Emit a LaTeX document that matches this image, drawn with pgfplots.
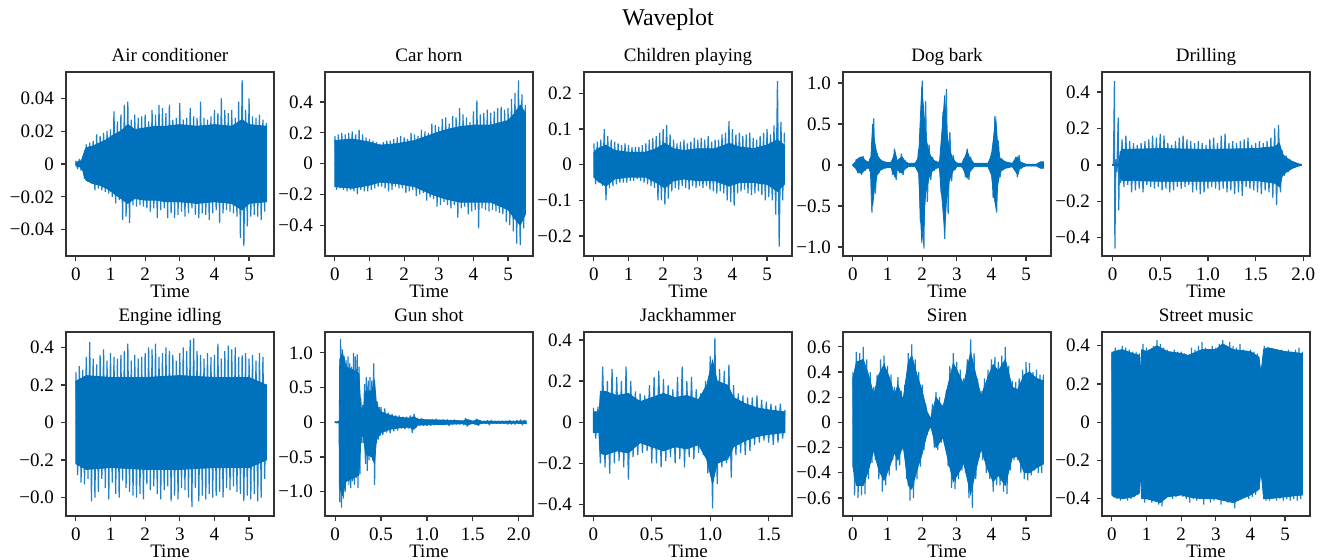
\documentclass[border=0pt]{standalone}
\usepackage{fontspec}
\setmainfont{Liberation Serif}
\usepackage{pgfplots}
\pgfplotsset{compat=1.18}
\usepgfplotslibrary{groupplots}
\usetikzlibrary{calc}

\definecolor{wavedark}{RGB}{0,113,188}
\definecolor{wavelight}{RGB}{30,128,198}
\pgfplotsset{
  spike/.style={wavelight, line width=0.6pt, line join=bevel, no markers},
  core/.style={fill=wavedark, draw=wavedark, line width=0.4pt, no markers},
}
\newcommand{\lbl}{\fontsize{9.5}{11}\selectfont}

\begin{document}
\begin{tikzpicture}
\begin{groupplot}[
  group style={group size=5 by 2, horizontal sep=25.5pt, vertical sep=38pt},
  width=104pt, height=92pt, scale only axis,
  axis line style={black!80, line width=0.6pt},
  tick style={black!80, line width=0.6pt},
  tick align=outside, tick pos=left, major tick length=2.5pt,
  ticklabel style={font=\lbl},
  scaled ticks=false,
  /pgf/number format/assume math mode=true,
  title style={font=\lbl, text height=1.55ex, text depth=0.22em, yshift=-6.5pt},
  xlabel={Time}, xlabel style={font=\lbl, yshift=5pt},
  xmin=-0.285, xmax=5.72, xtick={0,1,2,3,4,5},
]
% ---- Air conditioner
\nextgroupplot[title={Air conditioner}, ymin=-0.056, ymax=0.056,
  ytick={-0.04,-0.02,0,0.02,0.04}, yticklabels={−0.04,−0.02,0,0.02,0.04}]
\addplot[spike] coordinates {
(0,.002)(.05,-.003)(.1,.003)(.15,-.004)(.2,.005)(.25,-.009)(.3,.012)(.35,-.011)(.4,.013)(.45,-.012)
(.5,.014)(.55,-.016)(.6,.018)(.65,-.015)(.7,.017)(.75,-.016)(.8,.019)(.85,-.017)(.9,.02)(.95,-.018)
(1,.021)(1.05,-.02)(1.1,.032)(1.15,-.024)(1.2,.026)(1.25,-.022)(1.3,.03)(1.35,-.034)(1.4,.036)(1.45,-.032)
(1.5,.038)(1.55,-.036)(1.6,.027)(1.65,-.025)(1.7,.03)(1.75,-.026)(1.8,.028)(1.85,-.025)(1.9,.029)(1.95,-.026)
(2,.03)(2.05,-.027)(2.1,.026)(2.15,-.029)(2.2,.033)(2.25,-.027)(2.3,.03)(2.35,-.033)(2.4,.036)(2.45,-.028)
(2.5,.034)(2.55,-.027)(2.6,.031)(2.65,-.033)(2.7,.036)(2.75,-.03)(2.8,.027)(2.85,-.033)(2.9,.028)(2.95,-.031)
(3,.037)(3.05,-.029)(3.1,.027)(3.15,-.032)(3.2,.028)(3.25,-.03)(3.3,.034)(3.35,-.027)(3.4,.029)(3.45,-.031)
(3.5,.028)(3.55,-.033)(3.6,.038)(3.65,-.03)(3.7,.028)(3.75,-.031)(3.8,.027)(3.85,-.034)(3.9,.029)(3.95,-.03)
(4,.033)(4.05,-.028)(4.1,.031)(4.15,-.036)(4.2,.04)(4.25,-.03)(4.3,.033)(4.35,-.028)(4.4,.031)(4.45,-.029)
(4.5,.033)(4.55,-.03)(4.6,.028)(4.65,-.032)(4.7,.038)(4.75,-.045)(4.8,.051)(4.85,-.05)(4.9,.033)(4.95,-.038)
(5,.04)(5.05,-.032)(5.1,.029)(5.15,-.031)(5.2,.028)(5.25,-.032)(5.3,.03)(5.35,-.034)(5.4,.027)(5.45,-.029)(5.5,.025)};
\addplot[core] coordinates {(0,.001)(.15,.002)(.2,.004)(.25,.008)(.3,.01)(.5,.011)(.7,.013)(.9,.015)(1.1,.018)(1.3,.02)(1.5,.024)(1.7,.021)(2,.022)(2.3,.023)(2.6,.023)(3,.024)(3.5,.023)(4,.024)(4.5,.023)(4.8,.027)(5,.024)(5.5,.023)} \closedcycle;
\addplot[core] coordinates {(0,-.001)(.15,-.002)(.2,-.004)(.25,-.008)(.3,-.01)(.5,-.012)(.7,-.013)(.9,-.015)(1.1,-.018)(1.3,-.021)(1.5,-.024)(1.7,-.021)(2,-.022)(2.3,-.022)(2.6,-.023)(3,-.023)(3.5,-.024)(4,-.023)(4.5,-.024)(4.8,-.028)(5,-.024)(5.5,-.023)} \closedcycle;

% ---- Car horn
\nextgroupplot[title={Car horn}, ymin=-0.6, ymax=0.595,
  ytick={-0.4,-0.2,0,0.2,0.4}, yticklabels={−0.4,−0.2,0,0.2,0.4}]
\addplot[spike] coordinates {
(0,.18)(.05,-.17)(.1,.19)(.15,-.16)(.2,.2)(.25,-.17)(.3,.19)(.35,-.18)(.4,.2)(.45,-.17)
(.5,.21)(.55,-.18)(.6,.19)(.65,-.2)(.7,.22)(.75,-.17)(.8,.19)(.85,-.18)(.9,.17)(.95,-.18)
(1,.16)(1.05,-.17)(1.1,.15)(1.15,-.16)(1.2,.14)(1.25,-.15)(1.3,.13)(1.35,-.15)(1.4,.14)(1.45,-.16)
(1.5,.15)(1.55,-.18)(1.6,.15)(1.65,-.17)(1.7,.16)(1.75,-.15)(1.8,.17)(1.85,-.16)(1.9,.18)(1.95,-.16)
(2,.17)(2.05,-.19)(2.1,.16)(2.15,-.18)(2.2,.2)(2.25,-.17)(2.3,.19)(2.35,-.21)(2.4,.18)(2.45,-.2)
(2.5,.22)(2.55,-.19)(2.6,.21)(2.65,-.24)(2.7,.2)(2.75,-.22)(2.8,.26)(2.85,-.23)(2.9,.25)(2.95,-.28)
(3,.24)(3.05,-.27)(3.1,.29)(3.15,-.25)(3.2,.3)(3.25,-.27)(3.3,.26)(3.35,-.29)(3.4,.31)(3.45,-.27)
(3.5,.3)(3.55,-.35)(3.6,.36)(3.65,-.29)(3.7,.32)(3.75,-.28)(3.8,.3)(3.85,-.33)(3.9,.27)(3.95,-.31)
(4,.34)(4.05,-.3)(4.1,.41)(4.15,-.42)(4.2,.32)(4.25,-.29)(4.3,.33)(4.35,-.3)(4.4,.35)(4.45,-.31)
(4.5,.33)(4.55,-.3)(4.6,.34)(4.65,-.31)(4.7,.36)(4.75,-.32)(4.8,.37)(4.85,-.33)(4.9,.35)(4.95,-.38)
(5,.36)(5.05,-.4)(5.1,.42)(5.15,-.44)(5.2,.46)(5.25,-.52)(5.3,.54)(5.35,-.53)(5.4,.45)(5.45,-.42)(5.5,.38)};
\addplot[core] coordinates {(0,.15)(.5,.16)(1,.14)(1.3,.12)(1.8,.13)(2.3,.15)(2.8,.19)(3.2,.22)(3.6,.24)(4,.25)(4.5,.25)(5,.28)(5.2,.33)(5.35,.38)(5.5,.33)} \closedcycle;
\addplot[core] coordinates {(0,-.15)(.5,-.16)(1,-.14)(1.3,-.12)(1.8,-.13)(2.3,-.15)(2.8,-.2)(3.2,-.23)(3.6,-.25)(4,-.25)(4.5,-.25)(5,-.3)(5.2,-.36)(5.35,-.4)(5.5,-.33)} \closedcycle;

% ---- Children playing
\nextgroupplot[title={Children playing}, ymin=-0.256, ymax=0.26,
  ytick={-0.2,-0.1,0,0.1,0.2}, yticklabels={−0.2,−0.1,0,0.1,0.2}]
\addplot[spike] coordinates {
(0,.06)(.05,-.055)(.1,.065)(.15,-.05)(.2,.07)(.25,-.06)(.3,.1)(.35,-.1)(.4,.08)(.45,-.065)
(.5,.07)(.55,-.06)(.6,.065)(.65,-.055)(.7,.06)(.75,-.05)(.8,.055)(.85,-.05)(.9,.06)(.95,-.05)
(1,.055)(1.05,-.045)(1.1,.05)(1.15,-.045)(1.2,.05)(1.25,-.04)(1.3,.05)(1.35,-.045)(1.4,.055)(1.45,-.05)
(1.5,.06)(1.55,-.055)(1.6,.07)(1.65,-.06)(1.7,.075)(1.75,-.065)(1.8,.08)(1.85,-.1)(1.9,.09)(1.95,-.1)
(2,.1)(2.05,-.112)(2.1,.112)(2.15,-.095)(2.2,.085)(2.25,-.075)(2.3,.07)(2.35,-.065)(2.4,.06)(2.45,-.07)
(2.5,.065)(2.55,-.06)(2.6,.07)(2.65,-.065)(2.7,.06)(2.75,-.07)(2.8,.065)(2.85,-.06)(2.9,.075)(2.95,-.065)
(3,.07)(3.05,-.06)(3.1,.075)(3.15,-.065)(3.2,.07)(3.25,-.06)(3.3,.08)(3.35,-.07)(3.4,.065)(3.45,-.075)
(3.5,.07)(3.55,-.08)(3.6,.07)(3.65,-.075)(3.7,.085)(3.75,-.08)(3.8,.09)(3.85,-.1)(3.9,.122)(3.95,-.105)
(4,.1)(4.05,-.115)(4.1,.085)(4.15,-.08)(4.2,.09)(4.25,-.075)(4.3,.08)(4.35,-.07)(4.4,.085)(4.45,-.08)
(4.5,.09)(4.55,-.085)(4.6,.075)(4.65,-.08)(4.7,.07)(4.75,-.075)(4.8,.08)(4.85,-.085)(4.9,.09)(4.95,-.1)
(5,.1)(5.05,-.09)(5.1,.085)(5.15,-.1)(5.2,.11)(5.25,-.14)(5.3,.235)(5.35,-.23)(5.4,.12)(5.45,-.1)(5.5,.09)};
\addplot[core] coordinates {(0,.035)(.1,.045)(.35,.055)(.6,.04)(1,.035)(1.5,.035)(1.8,.045)(2.05,.06)(2.3,.045)(2.6,.04)(3,.045)(3.5,.045)(3.9,.06)(4.2,.05)(4.6,.045)(5,.055)(5.3,.07)(5.5,.055)} \closedcycle;
\addplot[core] coordinates {(0,-.035)(.1,-.045)(.35,-.06)(.6,-.04)(1,-.035)(1.5,-.035)(1.8,-.05)(2.05,-.065)(2.3,-.045)(2.6,-.04)(3,-.045)(3.5,-.045)(3.9,-.06)(4.2,-.05)(4.6,-.05)(5,-.055)(5.3,-.075)(5.5,-.055)} \closedcycle;

% ---- Dog bark
\nextgroupplot[title={Dog bark}, ymin=-1.11, ymax=1.135,
  ytick={-1,-0.5,0,0.5,1}, yticklabels={−1.0,−0.5,0,0.5,1.0}]
\addplot[spike] coordinates {
(0,.01)(.05,-.03)(.1,.07)(.15,-.1)(.2,.09)(.25,-.12)(.3,.11)(.35,-.07)(.4,.04)(.45,-.03)
(.5,.08)(.55,-.58)(.6,.57)(.65,-.35)(.7,.15)(.75,-.1)(.8,.07)(.85,-.05)(.9,.04)(.95,-.04)
(1,.03)(1.05,-.03)(1.1,.04)(1.15,-.12)(1.2,.2)(1.25,-.18)(1.3,.06)(1.35,-.1)(1.4,.14)(1.45,-.12)
(1.5,.06)(1.55,-.03)(1.6,.02)(1.65,-.02)(1.7,.02)(1.75,-.02)(1.8,.03)(1.85,-.05)(1.9,.2)(1.95,-.7)
(2,1.03)(2.05,-1.02)(2.1,.78)(2.15,-.45)(2.2,.25)(2.25,-.18)(2.3,.1)(2.35,-.07)(2.4,.05)(2.45,-.04)
(2.5,.05)(2.55,-.35)(2.6,.65)(2.65,-.9)(2.7,.93)(2.75,-.6)(2.8,.4)(2.85,-.2)(2.9,.12)(2.95,-.06)
(3,.03)(3.05,-.02)(3.1,.02)(3.15,-.03)(3.2,.08)(3.25,-.15)(3.3,.2)(3.35,-.18)(3.4,.1)(3.45,-.04)
(3.5,.02)(3.55,-.02)(3.6,.015)(3.65,-.02)(3.7,.015)(3.75,-.02)(3.8,.015)(3.85,-.02)(3.9,.02)(3.95,-.05)
(4,.15)(4.05,-.4)(4.1,.6)(4.15,-.58)(4.2,.3)(4.25,-.15)(4.3,.08)(4.35,-.05)(4.4,.04)(4.45,-.03)
(4.5,.02)(4.55,-.02)(4.6,.02)(4.65,-.04)(4.7,.1)(4.75,-.15)(4.8,.12)(4.85,-.05)(4.9,.02)(4.95,-.015)
(5,.01)(5.05,-.01)(5.1,.01)(5.15,-.01)(5.2,.01)(5.25,-.01)(5.3,.01)(5.35,-.02)(5.4,.03)(5.45,-.04)(5.5,.04)};
\addplot[core] coordinates {(0,.005)(.08,.04)(.15,.08)(.25,.1)(.35,.06)(.45,.03)(.52,.1)(.57,.5)(.62,.3)(.7,.12)(.8,.06)(.9,.04)(1,.03)(1.1,.03)(1.17,.1)(1.22,.16)(1.28,.05)(1.35,.08)(1.42,.1)(1.5,.05)(1.6,.02)(1.8,.02)(1.9,.1)(1.95,.6)(1.99,.95)(2.04,.7)(2.1,.35)(2.2,.15)(2.3,.07)(2.4,.04)(2.5,.03)(2.55,.3)(2.6,.55)(2.65,.85)(2.7,.45)(2.78,.2)(2.88,.08)(3,.02)(3.15,.02)(3.22,.08)(3.3,.17)(3.38,.08)(3.5,.02)(3.9,.02)(4,.12)(4.08,.4)(4.13,.55)(4.18,.25)(4.25,.08)(4.4,.04)(4.6,.02)(4.7,.08)(4.76,.1)(4.82,.04)(5,.01)(5.3,.01)(5.42,.04)(5.5,.04)} \closedcycle;
\addplot[core] coordinates {(0,-.005)(.08,-.04)(.15,-.09)(.25,-.1)(.35,-.06)(.45,-.03)(.52,-.1)(.57,-.5)(.62,-.3)(.7,-.12)(.8,-.06)(.9,-.04)(1,-.03)(1.1,-.03)(1.17,-.1)(1.22,-.15)(1.28,-.05)(1.35,-.08)(1.42,-.1)(1.5,-.05)(1.6,-.02)(1.8,-.02)(1.9,-.1)(1.95,-.6)(1.99,-.95)(2.04,-.72)(2.1,-.35)(2.2,-.15)(2.3,-.07)(2.4,-.04)(2.5,-.03)(2.55,-.3)(2.6,-.55)(2.65,-.82)(2.7,-.45)(2.78,-.2)(2.88,-.08)(3,-.02)(3.15,-.02)(3.22,-.08)(3.3,-.16)(3.38,-.08)(3.5,-.02)(3.9,-.02)(4,-.12)(4.08,-.4)(4.13,-.52)(4.18,-.25)(4.25,-.08)(4.4,-.04)(4.6,-.02)(4.7,-.08)(4.76,-.12)(4.82,-.04)(5,-.01)(5.3,-.01)(5.42,-.04)(5.5,-.04)} \closedcycle;

% ---- Drilling
\nextgroupplot[title={Drilling}, xmin=-0.11, xmax=2.07, ymin=-0.5, ymax=0.51,
  xtick={0,0.5,1,1.5,2}, xticklabels={0,0.5,1.0,1.5,2.0},
  ytick={-0.4,-0.2,0,0.2,0.4}, yticklabels={−0.4,−0.2,0,0.2,0.4}]
\addplot[spike] coordinates {
(0,.003)(.01,-.005)(.02,.46)(.025,-.46)(.035,.03)(.045,-.04)(.06,.26)(.065,-.25)(.075,.05)(.085,-.1)
(.1,.14)(.12,-.12)(.14,.16)(.16,-.11)(.18,.13)(.2,-.15)(.22,.12)(.24,-.14)(.26,.11)(.28,-.13)
(.3,.12)(.32,-.15)(.34,.13)(.36,-.11)(.38,.14)(.4,-.12)(.42,.16)(.44,-.13)(.46,.15)(.48,-.12)
(.5,.17)(.52,-.14)(.54,.16)(.56,-.13)(.58,.12)(.6,-.15)(.62,.11)(.64,-.14)(.66,.13)(.68,-.12)
(.7,.15)(.72,-.13)(.74,.16)(.76,-.12)(.78,.14)(.8,-.11)(.82,.13)(.84,-.15)(.86,.12)(.88,-.14)
(.9,.13)(.92,-.16)(.94,.12)(.96,-.15)(.98,.11)(1,-.13)(1.02,.14)(1.04,-.12)(1.06,.15)(1.08,-.13)
(1.1,.12)(1.12,-.14)(1.14,.16)(1.16,-.13)(1.18,.17)(1.2,-.15)(1.22,.12)(1.24,-.14)(1.26,.13)(1.28,-.16)
(1.3,.12)(1.32,-.15)(1.34,.13)(1.36,-.17)(1.38,.14)(1.4,-.12)(1.42,.15)(1.44,-.13)(1.46,.11)(1.48,-.14)
(1.5,.12)(1.52,-.15)(1.54,.13)(1.56,-.16)(1.58,.12)(1.6,-.14)(1.62,.13)(1.64,-.15)
(1.66,.15)(1.68,-.18)(1.7,.2)(1.72,-.22)(1.74,.22)(1.76,-.15)(1.78,.08)(1.8,-.06)(1.82,.05)(1.84,-.04)
(1.86,.03)(1.88,-.02)(1.9,.015)(1.92,-.01)(1.94,.006)(1.96,-.005)(1.98,.004)};
\addplot[core] coordinates {(0,.003)(.07,.005)(.08,.07)(.1,.085)(.5,.09)(1,.085)(1.5,.09)(1.7,.1)(1.75,.12)(1.78,.06)(1.82,.04)(1.88,.02)(1.95,.006)(1.98,.003)} \closedcycle;
\addplot[core] coordinates {(0,-.003)(.07,-.005)(.08,-.07)(.1,-.085)(.5,-.09)(1,-.09)(1.5,-.085)(1.7,-.1)(1.75,-.12)(1.78,-.06)(1.82,-.04)(1.88,-.02)(1.95,-.006)(1.98,-.003)} \closedcycle;

% ---- Engine idling
\nextgroupplot[title={Engine idling}, ymin=-0.498, ymax=0.482,
  ytick={-0.4,-0.2,0,0.2,0.4}, yticklabels={−0.0,−0.2,0,0.2,0.4}]
\addplot[spike] coordinates {
(0,.27)(.05,-.28)(.1,.3)(.15,-.32)(.2,.28)(.25,-.33)(.3,.35)(.35,-.3)(.4,.43)(.45,-.42)
(.5,.34)(.55,-.4)(.6,.31)(.65,-.37)(.7,.36)(.75,-.3)(.8,.39)(.85,-.35)(.9,.33)(.95,-.41)
(1,.37)(1.05,-.32)(1.1,.35)(1.15,-.38)(1.2,.34)(1.25,-.4)(1.3,.36)(1.35,-.31)(1.4,.38)(1.45,-.35)
(1.5,.42)(1.55,-.37)(1.6,.33)(1.65,-.39)(1.7,.36)(1.75,-.4)(1.8,.34)(1.85,-.38)(1.9,.35)(1.95,-.41)
(2,.37)(2.05,-.33)(2.1,.4)(2.15,-.36)(2.2,.39)(2.25,-.34)(2.3,.42)(2.35,-.38)(2.4,.35)(2.45,-.41)
(2.5,.37)(2.55,-.36)(2.6,.4)(2.65,-.34)(2.7,.38)(2.75,-.42)(2.8,.36)(2.85,-.39)(2.9,.33)(2.95,-.41)
(3,.37)(3.05,-.35)(3.1,.4)(3.15,-.36)(3.2,.38)(3.25,-.4)(3.3,.44)(3.35,-.45)(3.4,.45)(3.45,-.35)
(3.5,.38)(3.55,-.42)(3.6,.36)(3.65,-.39)(3.7,.34)(3.75,-.41)(3.8,.37)(3.85,-.38)(3.9,.35)(3.95,-.4)
(4,.36)(4.05,-.39)(4.1,.42)(4.15,-.37)(4.2,.34)(4.25,-.4)(4.3,.38)(4.35,-.35)(4.4,.41)(4.45,-.36)
(4.5,.39)(4.55,-.34)(4.6,.4)(4.65,-.37)(4.7,.35)(4.75,-.38)(4.8,.36)(4.85,-.42)(4.9,.37)(4.95,-.39)
(5,.34)(5.05,-.41)(5.1,.36)(5.15,-.38)(5.2,.33)(5.25,-.42)(5.3,.37)(5.35,-.4)(5.4,.35)(5.45,-.3)(5.5,.2)};
\addplot[core] coordinates {(0,.22)(.3,.25)(1,.24)(2,.24)(3,.25)(4,.24)(5,.24)(5.5,.2)} \closedcycle;
\addplot[core] coordinates {(0,-.22)(.3,-.25)(1,-.24)(2,-.25)(3,-.25)(4,-.24)(5,-.24)(5.5,-.2)} \closedcycle;

% ---- Gun shot
\nextgroupplot[title={Gun shot}, xmin=-0.11, xmax=2.155, ymin=-1.35, ymax=1.3,
  xtick={0,0.5,1,1.5,2}, xticklabels={0,0.5,1.0,1.5,2.0},
  ytick={-1,-0.5,0,0.5,1}, yticklabels={−1.0,−0.5,0,0.5,1.0}]
\addplot[spike] coordinates {
(0,.01)(.02,-.01)(.04,.02)(.045,-.02)
(.05,-1.15)(.06,1.2)(.07,-1.23)(.08,1.05)(.09,-1.1)(.1,.95)(.11,-1)(.12,.9)(.13,-.85)(.14,.95)
(.15,-.9)(.16,.85)(.17,-.95)(.18,.8)(.19,-.85)(.2,1)(.21,-.9)(.22,.95)(.23,-.8)(.24,.98)
(.25,-.95)(.26,.8)(.27,-.75)(.28,.35)(.29,-.3)(.3,.25)(.31,-.3)(.32,.55)(.33,-.6)(.34,.65)
(.35,-.7)(.36,.6)(.37,-.55)(.38,.65)(.39,-.5)(.4,.6)(.41,-.55)(.42,.85)(.43,-.9)(.44,.4)
(.45,-.3)(.46,.3)(.47,-.25)(.48,.22)(.49,-.2)(.5,.22)
(.52,-.18)(.54,.2)(.56,-.15)(.58,.14)(.6,-.16)(.62,.12)(.64,-.13)(.66,.1)(.68,-.12)(.7,.1)
(.72,-.09)(.74,.08)(.76,-.1)(.78,.08)(.8,-.09)(.82,.1)(.84,-.15)(.86,.12)(.88,-.08)(.9,.06)
(.92,-.05)(.94,.06)(.96,-.05)(.98,.04)(1,-.05)(1.02,.04)(1.04,-.05)(1.06,.04)(1.08,-.04)(1.1,.05)
(1.12,-.04)(1.14,.03)(1.16,-.04)(1.18,.04)(1.2,-.03)(1.22,.04)(1.24,-.05)(1.26,.03)(1.28,-.03)(1.3,.04)
(1.32,-.03)(1.34,.02)(1.36,-.03)(1.38,.02)(1.4,-.04)(1.42,.06)(1.44,-.06)(1.46,.03)(1.48,-.02)(1.5,.02)
(1.52,-.03)(1.54,.05)(1.56,-.05)(1.58,.02)(1.6,-.02)(1.62,.02)(1.64,-.02)(1.66,.03)(1.68,-.04)(1.7,.03)
(1.72,-.02)(1.74,.02)(1.76,-.02)(1.78,.02)(1.8,-.02)(1.82,.02)(1.84,-.02)(1.86,.02)(1.88,-.03)(1.9,.03)
(1.92,-.03)(1.94,.02)(1.96,-.03)(1.98,.03)(2,-.02)(2.02,.04)(2.04,-.04)(2.06,.03)(2.08,-.02)};
\addplot[core] coordinates {(0,.005)(.045,.01)(.05,.9)(.08,1)(.12,.8)(.2,.75)(.26,.7)(.28,.2)(.31,.2)(.33,.45)(.4,.45)(.43,.6)(.45,.25)(.5,.15)(.6,.1)(.7,.07)(.8,.06)(.86,.08)(.9,.04)(1.2,.03)(1.4,.02)(1.44,.04)(1.5,.015)(1.55,.035)(1.6,.015)(2,.015)(2.08,.02)} \closedcycle;
\addplot[core] coordinates {(0,-.005)(.045,-.01)(.05,-.95)(.08,-1.05)(.12,-.85)(.2,-.8)(.26,-.75)(.28,-.2)(.31,-.2)(.33,-.45)(.4,-.5)(.43,-.6)(.45,-.25)(.5,-.15)(.6,-.1)(.7,-.08)(.8,-.07)(.86,-.1)(.9,-.04)(1.2,-.03)(1.4,-.02)(1.44,-.04)(1.5,-.015)(1.55,-.035)(1.6,-.015)(2,-.015)(2.08,-.02)} \closedcycle;

% ---- Jackhammer
\nextgroupplot[title={Jackhammer}, xmin=-0.08, xmax=1.70, ymin=-0.457, ymax=0.439,
  xtick={0,0.5,1,1.5}, xticklabels={0,0.5,1.0,1.5},
  ytick={-0.4,-0.2,0,0.2,0.4}, yticklabels={−0.4,−0.2,0,0.2,0.4}]
\addplot[spike] coordinates {
(0,.07)(.02,-.08)(.04,.075)(.06,-.2)(.08,.27)(.1,-.22)(.12,.2)(.14,-.25)(.16,.26)(.18,-.2)
(.2,.22)(.22,-.19)(.24,.2)(.26,-.22)(.28,.27)(.3,-.28)(.32,.2)(.34,-.17)(.36,.15)(.38,-.16)
(.4,.14)(.42,-.15)(.44,.13)(.46,-.14)(.48,.18)(.5,-.2)(.52,.22)(.54,-.2)(.56,.25)(.58,-.22)
(.6,.21)(.62,-.19)(.64,.18)(.66,-.17)(.68,.16)(.7,-.2)(.72,.22)(.74,-.18)(.76,.27)(.78,-.22)
(.8,.2)(.82,-.17)(.84,.22)(.86,-.18)(.88,.16)(.9,-.15)(.92,.14)(.94,-.16)(.96,.2)(.98,-.25)
(1,.32)(1.02,-.42)(1.04,.41)(1.06,-.3)(1.08,.26)(1.1,-.22)(1.12,.25)(1.14,-.2)(1.16,.28)(1.18,-.27)
(1.2,.18)(1.22,-.16)(1.24,.14)(1.26,-.15)(1.28,.13)(1.3,-.16)(1.32,.12)(1.34,-.14)(1.36,.12)(1.38,-.11)
(1.4,.13)(1.42,-.1)(1.44,.11)(1.46,-.09)(1.48,.1)(1.5,-.1)(1.52,.09)(1.54,-.11)(1.56,.08)(1.58,-.1)
(1.6,.09)(1.62,-.08)(1.64,.06)};
\addplot[core] coordinates {(0,.05)(.05,.05)(.06,.15)(.1,.15)(.2,.13)(.3,.14)(.4,.1)(.5,.12)(.6,.14)(.7,.12)(.8,.13)(.9,.11)(.97,.18)(1.02,.3)(1.06,.2)(1.15,.18)(1.2,.12)(1.3,.09)(1.4,.07)(1.5,.06)(1.64,.05)} \closedcycle;
\addplot[core] coordinates {(0,-.05)(.05,-.05)(.06,-.15)(.1,-.16)(.2,-.14)(.3,-.15)(.4,-.1)(.5,-.12)(.6,-.14)(.7,-.12)(.8,-.13)(.9,-.11)(.97,-.18)(1.02,-.3)(1.06,-.2)(1.15,-.18)(1.2,-.12)(1.3,-.09)(1.4,-.07)(1.5,-.06)(1.64,-.05)} \closedcycle;

% ---- Siren
\nextgroupplot[title={Siren}, ymin=-0.743, ymax=0.718,
  ytick={-0.6,-0.4,-0.2,0,0.2,0.4,0.6}, yticklabels={−0.6,−0.4,−0.2,0,0.2,0.4,0.6}]
\addplot[spike] coordinates {
(0,.4)(.05,-.58)(.1,.56)(.15,-.6)(.2,.55)(.25,-.58)(.3,.6)(.35,-.57)(.4,.5)(.45,-.45)
(.5,.4)(.55,-.32)(.6,.28)(.65,-.3)(.7,.38)(.75,-.45)(.8,.5)(.85,-.55)(.9,.53)(.95,-.5)
(1,.45)(1.05,-.42)(1.1,.38)(1.15,-.3)(1.2,.28)(1.25,-.38)(1.3,.36)(1.35,-.34)(1.4,.25)(1.45,-.22)
(1.5,.3)(1.55,-.45)(1.6,.55)(1.65,-.62)(1.7,.62)(1.75,-.6)(1.8,.5)(1.85,-.45)(1.9,.4)(1.95,-.35)
(2,.3)(2.05,-.22)(2.1,.15)(2.15,-.1)(2.2,.05)(2.25,-.04)(2.3,.15)(2.35,-.2)(2.4,.24)(2.45,-.22)
(2.5,.2)(2.55,-.16)(2.6,.14)(2.65,-.18)(2.7,.26)(2.75,-.35)(2.8,.45)(2.85,-.52)(2.9,.55)(2.95,-.53)
(3,.48)(3.05,-.45)(3.1,.42)(3.15,-.38)(3.2,.35)(3.25,-.4)(3.3,.5)(3.35,-.6)(3.4,.66)(3.45,-.68)
(3.5,.55)(3.55,-.45)(3.6,.35)(3.65,-.28)(3.7,.25)(3.75,-.3)(3.8,.35)(3.85,-.4)(3.9,.42)(3.95,-.45)
(4,.5)(4.05,-.55)(4.1,.52)(4.15,-.5)(4.2,.48)(4.25,-.5)(4.3,.53)(4.35,-.55)(4.4,.6)(4.45,-.57)
(4.5,.45)(4.55,-.38)(4.6,.33)(4.65,-.3)(4.7,.32)(4.75,-.3)(4.8,.35)(4.85,-.4)(4.9,.42)(4.95,-.45)
(5,.48)(5.05,-.46)(5.1,.47)(5.15,-.42)(5.2,.4)(5.25,-.38)(5.3,.42)(5.35,-.4)(5.4,.38)(5.45,-.4)(5.5,.38)};
\addplot[core] coordinates {(0,.35)(.1,.48)(.3,.5)(.45,.38)(.6,.22)(.75,.38)(.9,.46)(1.05,.36)(1.2,.22)(1.3,.3)(1.45,.18)(1.6,.48)(1.7,.53)(1.85,.38)(2,.25)(2.15,.08)(2.25,.03)(2.4,.2)(2.6,.12)(2.75,.3)(2.9,.47)(3.1,.36)(3.2,.3)(3.4,.56)(3.55,.38)(3.7,.21)(3.9,.36)(4.05,.46)(4.2,.41)(4.4,.5)(4.6,.28)(4.75,.26)(4.95,.38)(5.1,.4)(5.3,.35)(5.5,.33)} \closedcycle;
\addplot[core] coordinates {(0,-.35)(.1,-.5)(.3,-.5)(.45,-.38)(.6,-.22)(.75,-.38)(.9,-.46)(1.05,-.36)(1.2,-.24)(1.3,-.3)(1.45,-.18)(1.6,-.5)(1.7,-.53)(1.85,-.38)(2,-.25)(2.15,-.08)(2.25,-.03)(2.4,-.2)(2.6,-.12)(2.75,-.3)(2.9,-.47)(3.1,-.38)(3.2,-.32)(3.4,-.57)(3.55,-.38)(3.7,-.21)(3.9,-.38)(4.05,-.47)(4.2,-.42)(4.4,-.5)(4.6,-.28)(4.75,-.27)(4.95,-.4)(5.1,-.4)(5.3,-.36)(5.5,-.33)} \closedcycle;

% ---- Street music
\nextgroupplot[title={Street music}, ymin=-0.49, ymax=0.472,
  ytick={-0.4,-0.2,0,0.2,0.4}, yticklabels={−0.4,−0.2,0,0.2,0.4}]
\addplot[spike] coordinates {
(0,.37)(.05,-.39)(.1,.39)(.15,-.4)(.2,.38)(.25,-.41)(.3,.4)(.35,-.4)(.4,.39)(.45,-.41)
(.5,.38)(.55,-.4)(.6,.37)(.65,-.39)(.7,.37)(.75,-.38)(.8,.36)(.85,-.23)(.9,.41)(.95,-.42)
(1,.39)(1.05,-.4)(1.1,.38)(1.15,-.42)(1.2,.4)(1.25,-.41)(1.3,.43)(1.35,-.43)(1.4,.41)(1.45,-.44)
(1.5,.39)(1.55,-.4)(1.6,.38)(1.65,-.39)(1.7,.37)(1.75,-.4)(1.8,.38)(1.85,-.39)(1.9,.37)(1.95,-.38)
(2,.37)(2.05,-.39)(2.1,.36)(2.15,-.4)(2.2,.35)(2.25,-.42)(2.3,.39)(2.35,-.4)(2.4,.38)(2.45,-.41)
(2.5,.4)(2.55,-.39)(2.6,.42)(2.65,-.43)(2.7,.39)(2.75,-.4)(2.8,.38)(2.85,-.42)(2.9,.4)(2.95,-.41)
(3,.39)(3.05,-.4)(3.1,.41)(3.15,-.43)(3.2,.43)(3.25,-.41)(3.3,.39)(3.35,-.42)(3.4,.42)(3.45,-.41)
(3.5,.4)(3.55,-.45)(3.6,.39)(3.65,-.41)(3.7,.41)(3.75,-.4)(3.8,.38)(3.85,-.39)(3.9,.37)(3.95,-.4)
(4,.38)(4.05,-.39)(4.1,.37)(4.15,-.38)(4.2,.36)(4.25,-.35)(4.3,.25)(4.35,-.27)(4.4,.4)(4.45,-.41)
(4.5,.39)(4.55,-.41)(4.6,.38)(4.65,-.4)(4.7,.38)(4.75,-.41)(4.8,.37)(4.85,-.4)(4.9,.38)(4.95,-.41)
(5,.37)(5.05,-.4)(5.1,.38)(5.15,-.41)(5.2,.37)(5.25,-.4)(5.3,.38)(5.35,-.41)(5.4,.39)(5.45,-.4)(5.5,.37)};
\addplot[core] coordinates {(0,.36)(.05,.37)(.3,.38)(.6,.36)(.8,.35)(.83,.22)(.86,.38)(1,.37)(1.3,.4)(1.6,.37)(2,.36)(2.2,.35)(2.6,.38)(3,.38)(3.2,.41)(3.5,.38)(4,.37)(4.25,.34)(4.3,.26)(4.33,.3)(4.38,.38)(4.5,.39)(5,.37)(5.5,.36)} \closedcycle;
\addplot[core] coordinates {(0,-.38)(.05,-.39)(.3,-.4)(.6,-.39)(.8,-.37)(.83,-.23)(.86,-.4)(1,-.4)(1.4,-.42)(1.6,-.39)(2,-.38)(2.2,-.39)(2.6,-.4)(3,-.4)(3.5,-.42)(4,-.38)(4.25,-.35)(4.3,-.26)(4.33,-.3)(4.38,-.4)(4.5,-.4)(5,-.39)(5.5,-.38)} \closedcycle;
\end{groupplot}
\node[font=\fontsize{12}{14}\selectfont] at ($(group c3r1.north)+(-10pt,26pt)$) {Waveplot};
\pgfresetboundingbox
\path[use as bounding box] ($(group c1r1.north west)+(-33pt,36pt)$) rectangle ($(group c1r1.north west)+(627.5pt,-243.5pt)$);
\end{tikzpicture}
\end{document}
